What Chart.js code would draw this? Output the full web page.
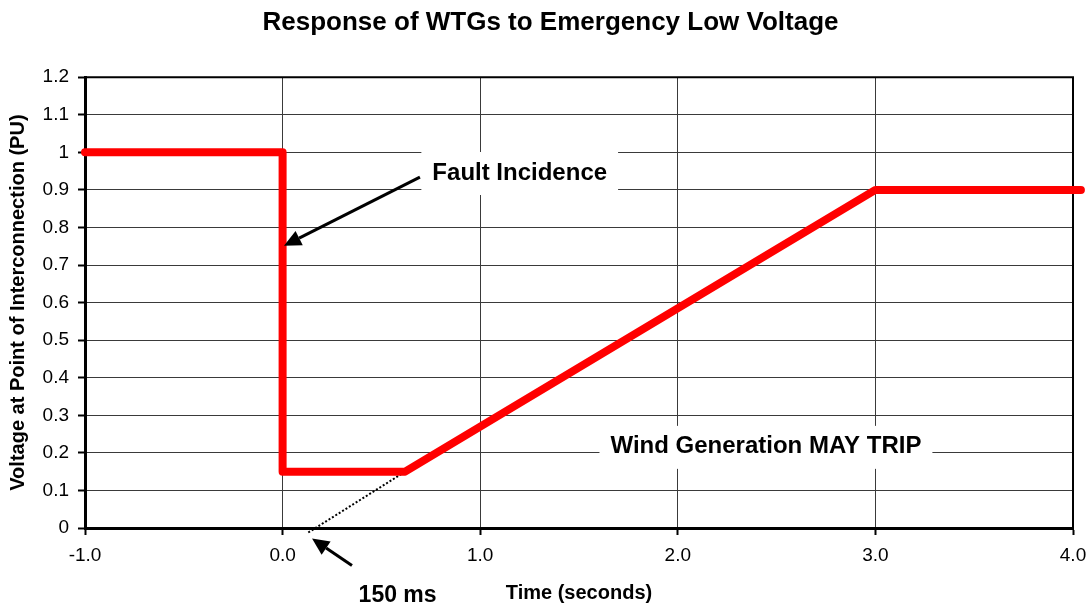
<!DOCTYPE html>
<html>
<head>
<meta charset="utf-8">
<title>Response of WTGs to Emergency Low Voltage</title>
<script src="https://cdn.jsdelivr.net/npm/chart.js@4.4.1/dist/chart.umd.min.js"></script>
<style>
    html, body { margin: 0; padding: 0; background: #fff; }
    #wrap { width: 1087px; height: 609px; }
</style>
</head>
<body>
<div id="wrap"><canvas id="lvrtChart" width="1087" height="609"></canvas></div>
<script>
// ride-through envelope: time (s) vs voltage at POI (pu)
const timeSec = [-1.0, 0.0, 0.0, 0.62, 3.0, 4.04];
const voltagePU = [1.0, 1.0, 0.15, 0.15, 0.9, 0.9];

// dotted extension of the recovery ramp back down to zero
const rampTime = [0.13, 0.62];
const rampVoltage = [-0.012, 0.15];

const xTickValues = [-1, 0, 1, 2, 3, 4];
const xTickLabels = ['-1.0', '0.0', '1.0', '2.0', '3.0', '4.0'];
const yTickValues = [0, 0.1, 0.2, 0.3, 0.4, 0.5, 0.6, 0.7, 0.8, 0.9, 1, 1.1, 1.2];
const yTickLabels = ['0', '0.1', '0.2', '0.3', '0.4', '0.5', '0.6', '0.7', '0.8', '0.9', '1', '1.1', '1.2'];

const FONT = '"Liberation Sans", Arial, sans-serif';

// text callouts, placed in data units; arrow = [fromX, fromY, toX, toY]
const callouts = [
    { text: 'Fault Incidence', x: 1.2, y: 0.945, size: 24, box: true, arrow: [0.695, 0.934, 0.007, 0.751] },
    { text: 'Wind Generation MAY TRIP', x: 2.446, y: 0.216, size: 24, box: true },
    { text: '150 ms', x: 0.582, y: -0.179, size: 23, box: false, arrow: [0.351, -0.100, 0.149, -0.028] }
];

function drawArrow(ctx, x1, y1, x2, y2) {
    const ang = Math.atan2(y2 - y1, x2 - x1);
    const headLen = 17, headHalf = 8;
    const bx = x2 - headLen * Math.cos(ang);
    const by = y2 - headLen * Math.sin(ang);
    ctx.lineWidth = 3;
    ctx.beginPath();
    ctx.moveTo(x1, y1);
    ctx.lineTo(bx, by);
    ctx.stroke();
    ctx.beginPath();
    ctx.moveTo(x2, y2);
    ctx.lineTo(bx + headHalf * Math.sin(ang), by - headHalf * Math.cos(ang));
    ctx.lineTo(bx - headHalf * Math.sin(ang), by + headHalf * Math.cos(ang));
    ctx.closePath();
    ctx.fill();
}

const framePlugin = {
    id: 'frame',
    beforeDatasetsDraw(chart) {
        const { ctx, chartArea } = chart;
        ctx.save();
        ctx.strokeStyle = '#000';
        ctx.lineWidth = 2;
        ctx.beginPath();
        ctx.moveTo(chartArea.left, chartArea.top);
        ctx.lineTo(chartArea.right, chartArea.top);
        ctx.lineTo(chartArea.right, chartArea.bottom);
        ctx.stroke();
        ctx.restore();
    }
};

const calloutPlugin = {
    id: 'callouts',
    afterDatasetsDraw(chart) {
        const { ctx } = chart;
        const xs = chart.scales.x, ys = chart.scales.y;
        ctx.save();
        ctx.fillStyle = '#000';
        ctx.strokeStyle = '#000';
        callouts.forEach(c => {
            if (c.arrow) {
                drawArrow(ctx,
                    xs.getPixelForValue(c.arrow[0]), ys.getPixelForValue(c.arrow[1]),
                    xs.getPixelForValue(c.arrow[2]), ys.getPixelForValue(c.arrow[3]));
            }
            const px = xs.getPixelForValue(c.x);
            const py = ys.getPixelForValue(c.y);
            ctx.font = 'bold ' + c.size + 'px ' + FONT;
            if (c.box) {
                const w = ctx.measureText(c.text).width + 22;
                ctx.fillStyle = '#fff';
                ctx.fillRect(px - w / 2, py - 21, w, 43);
                ctx.fillStyle = '#000';
            }
            ctx.textAlign = 'center';
            ctx.textBaseline = 'middle';
            ctx.fillText(c.text, px, py);
        });
        ctx.restore();
    }
};

const ctx = document.getElementById('lvrtChart').getContext('2d');

new Chart(ctx, {
    type: 'line',
    data: {
        datasets: [
            {
                data: timeSec.map((t, i) => ({ x: t, y: voltagePU[i] })),
                borderColor: '#ff0000',
                borderWidth: 8,
                borderCapStyle: 'round',
                borderJoinStyle: 'round',
                pointRadius: 0,
                tension: 0,
                clip: false,
                order: 0
            },
            {
                data: rampTime.map((t, i) => ({ x: t, y: rampVoltage[i] })),
                borderColor: '#000',
                borderWidth: 2,
                borderDash: [2, 2],
                pointRadius: 0,
                tension: 0,
                clip: false,
                order: 1
            }
        ]
    },
    options: {
        responsive: false,
        devicePixelRatio: 1,
        animation: false,
        // left padding only shifts the title centre; the y axis fills the rest
        layout: { padding: { left: 28, right: 14, top: 0, bottom: 0 } },
        plugins: {
            legend: { display: false },
            tooltip: { enabled: false },
            title: {
                display: true,
                text: 'Response of WTGs to Emergency Low Voltage',
                color: '#000',
                font: { family: FONT, size: 26, weight: 'bold' },
                padding: { top: 7, bottom: 39 }
            }
        },
        scales: {
            x: {
                type: 'linear',
                min: -1,
                max: 4,
                afterBuildTicks: s => { s.ticks = xTickValues.map(v => ({ value: v })); },
                afterFit: s => {
                    s.height = 81;
                    s.paddingLeft = 0;
                    s.paddingRight = 0;
                },
                ticks: {
                    callback: (v, i) => xTickLabels[i],
                    color: '#000',
                    font: { family: FONT, size: 19 },
                    padding: 9,
                    maxRotation: 0,
                    autoSkip: false
                },
                grid: { color: '#3a3a3a', lineWidth: 1, tickLength: 7, tickColor: '#000', tickWidth: 2 },
                border: { color: '#000', width: 3 },
                title: {
                    display: true,
                    text: 'Time (seconds)',
                    color: '#000',
                    font: { family: FONT, size: 20, weight: 'bold' },
                    padding: { top: 0, bottom: 4 }
                }
            },
            y: {
                min: 0,
                max: 1.2,
                afterBuildTicks: s => { s.ticks = yTickValues.map(v => ({ value: v })); },
                afterFit: s => { s.width = 57; },
                ticks: {
                    callback: (v, i) => yTickLabels[i],
                    color: '#000',
                    font: { family: FONT, size: 19 },
                    padding: 9,
                    autoSkip: false
                },
                grid: { color: '#3a3a3a', lineWidth: 1, tickLength: 7, tickColor: '#000', tickWidth: 2 },
                border: { color: '#000', width: 3 },
                title: {
                    display: true,
                    text: 'Voltage at Point of Interconnection (PU)',
                    color: '#000',
                    font: { family: FONT, size: 20, weight: 'bold' },
                    padding: { top: -22, bottom: 0 }
                }
            }
        }
    },
    plugins: [framePlugin, calloutPlugin]
});
</script>
</body>
</html>
